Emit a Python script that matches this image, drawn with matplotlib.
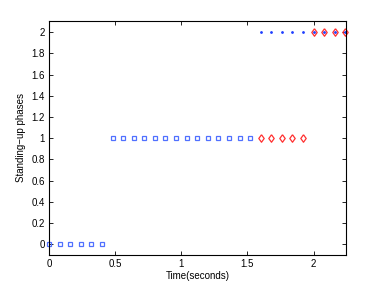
import matplotlib
matplotlib.use('Agg')
import matplotlib.pyplot as plt

plt.rcParams['font.family'] = ['Liberation Sans', 'DejaVu Sans']

# phase 0 and phase 1 samples (blue squares)
t_sq0 = [0.0, 0.08, 0.16, 0.24, 0.32, 0.40]
p_sq0 = [0, 0, 0, 0, 0, 0]
t_sq1 = [0.48, 0.56, 0.64, 0.72, 0.80, 0.88, 0.96, 1.04, 1.12, 1.20, 1.28, 1.36, 1.44, 1.52]
p_sq1 = [1, 1, 1, 1, 1, 1, 1, 1, 1, 1, 1, 1, 1, 1]

# phase 2 samples (blue dots)
t_dot = [1.60, 1.68, 1.76, 1.84, 1.92, 2.00, 2.08, 2.16, 2.24]
p_dot = [2, 2, 2, 2, 2, 2, 2, 2, 2]

# red diamonds
t_dia = [1.60, 1.68, 1.76, 1.84, 1.92, 2.00, 2.08, 2.16, 2.24]
p_dia = [1, 1, 1, 1, 1, 2, 2, 2, 2]

# diamond marker shape, a bit wider than 'd'
dia = [(0, 1), (0.72, 0), (0, -1), (-0.72, 0), (0, 1)]

fig = plt.figure(figsize=(3.82, 2.88), dpi=100)
ax = fig.add_axes([49/382, 1 - 255/288, (346-49)/382, (255-21)/288])

ax.plot(t_sq0 + t_sq1, p_sq0 + p_sq1, 's', mfc='none', mec='#5070ff',
        ms=3.5, mew=0.9, clip_on=False)
ax.plot(t_dia, p_dia, marker=dia, ls='none', mfc='none', mec='#ff3030',
        ms=5.4, mew=0.9, clip_on=False)
ax.plot(t_dot, p_dot, '.', color='#2040ff', ms=2, clip_on=False)

ax.set_xlim(0, 2.245)
ax.set_ylim(-0.1, 2.105)
ax.set_xticks([0, 0.5, 1, 1.5, 2])
ax.set_xticklabels(['0', '0.5', '1', '1.5', '2'])
ax.set_yticks([0, 0.2, 0.4, 0.6, 0.8, 1, 1.2, 1.4, 1.6, 1.8, 2])
ax.set_yticklabels(['0', '0.2', '0.4', '0.6', '0.8', '1', '1.2', '1.4', '1.6', '1.8', '2'])
ax.tick_params(direction='in', top=True, right=True, labelsize=7, length=3, width=0.6, pad=3)
for s in ax.spines.values():
    s.set_linewidth(0.8)

ax.set_xlabel('Time(seconds)', fontsize=7, labelpad=1)
ax.set_ylabel('Standing\u2212up phases', fontsize=7, labelpad=4)

fig.savefig('out.png', dpi=100)
